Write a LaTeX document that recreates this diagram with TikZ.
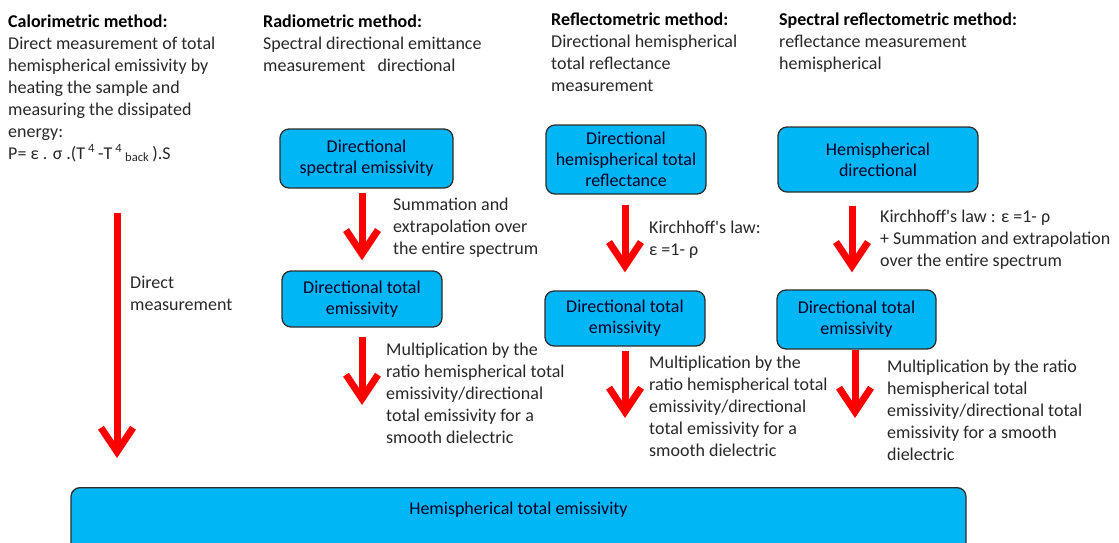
\documentclass[tikz,border=0pt]{standalone}
\usepackage{fontspec}
\setmainfont{Carlito}[Ligatures=TeXOff]
\usetikzlibrary{arrows.meta}
\definecolor{boxfill}{RGB}{0,182,245}
\definecolor{boxline}{RGB}{45,45,45}
\definecolor{bodytext}{RGB}{40,40,40}
\definecolor{arrowred}{RGB}{255,0,0}
\newcommand{\bodyfont}{\fontsize{18}{22}\selectfont}
\newcommand{\boxfont}{\fontsize{18}{21}\selectfont}
\tikzset{
  txt/.style={anchor=north west, inner sep=0pt, align=left, font=\bodyfont, text=bodytext},
  ebox/.style={draw=boxline, line width=1.3pt, fill=boxfill, rounded corners=9pt,
     align=center, font=\boxfont, text=black!85!blue, inner sep=2pt},
  bigarrow/.style={draw=arrowred, line width=7pt, -{Straight Barb[length=24pt, width=32pt]}},
}
\begin{document}
\begin{tikzpicture}[x=1pt, y=-1pt]
\useasboundingbox (0,0) rectangle (1119,543);
\clip (0,0) rectangle (1119,543);

% header texts (first baseline = top + 15.4)
\node[txt] (calo) at (8,11.6) {\strut\textbf{\color{black}Calorimetric method:}\\
Direct measurement of total\\
hemispherical emissivity by\\
heating the sample and\\
measuring the dissipated\\
energy:\\
P= ε . σ .(T\,\textsuperscript{4}\,-T\,\textsuperscript{4}\,\textsubscript{back}\,).S};

\node[txt] (radio) at (263,11.6) {\strut\textbf{\color{black}Radiometric method:}\\
Spectral directional emittance\\
measurement\ \ \ directional};

\node[txt] (refl) at (551,10) {\strut\textbf{\color{black}Reflectometric method:}\\
Directional hemispherical\\
total reflectance\\
measurement};

\node[txt] (spec) at (779,10) {\strut\textbf{\color{black}Spectral reflectometric method:}\\
reflectance measurement\\
hemispherical};

% boxes
\node[ebox, minimum width=173pt, minimum height=59pt] (b1) at (366.5,158.5) {Directional\\spectral emissivity};
\node[ebox, minimum width=160pt, minimum height=69pt] (b2) at (626,159.5) {Directional\\hemispherical total\\reflectance};
\node[ebox, minimum width=200pt, minimum height=65pt] (b3) at (878,159.5) {Hemispherical\\directional};
\node[ebox, minimum width=160pt, minimum height=56pt] (b4) at (362,299) {Directional total\\emissivity};
\node[ebox, minimum width=160pt, minimum height=55pt] (b5) at (625,318.5) {Directional total\\emissivity};
\node[ebox, minimum width=159pt, minimum height=59pt] (b6) at (856.5,319.5) {Directional total\\emissivity};
\node[ebox, anchor=north, minimum width=895pt, text height=23pt, text depth=40pt, inner ysep=4pt] (b7) at (518.5,487) {Hemispherical total emissivity};

% free arrow ends
\coordinate (l0) at (117,213);
\coordinate (l1) at (117,458);
\coordinate (r2) at (362,405);
\coordinate (f2) at (625,418);
\coordinate (s2) at (855,418);

% arrows
\draw[bigarrow] (l0) -- (l1);
\draw[bigarrow, shorten <=4pt, shorten >=10pt] (b1.south -| b4.north) -- (b4.north);
\draw[bigarrow, shorten <=9pt] (b4.south) -- (r2);
\draw[bigarrow, shorten <=10pt, shorten >=18pt] (b2.south -| b5.north) -- (b5.north);
\draw[bigarrow, shorten <=4pt] (b5.south) -- (f2);
\draw[bigarrow, shorten <=13pt, shorten >=17pt] (b3.south -| 852,0) -- (b6.north -| 852,0);
\draw[bigarrow] (b6.south -| s2) -- (s2);

% arrow labels
\node[txt] (ldm) at (130,272.6) {\strut Direct\\measurement};
\node[txt] (lsum) at (393,194.6) {\strut Summation and\\extrapolation over\\the entire spectrum};
\node[txt] (lmul1) at (386,339.6) {\strut Multiplication by the\\ratio hemispherical total\\emissivity/directional\\total emissivity for a\\smooth dielectric};
\node[txt] (lkir1) at (649,217.6) {\strut Kirchhoff's law:\\ε =1- ρ};
\node[txt] (lmul2) at (649,353) {\strut Multiplication by the\\ratio hemispherical total\\emissivity/directional\\total emissivity for a\\smooth dielectric};
\node[txt] (lkir2) at (880,206.6) {\strut Kirchhoff's law : ε =1- ρ\\+ Summation and extrapolation\\over the entire spectrum};
\node[txt] (lmul3) at (887,356.6) {\strut Multiplication by the ratio\\hemispherical total\\emissivity/directional total\\emissivity for a smooth\\dielectric};
\end{tikzpicture}
\end{document}
